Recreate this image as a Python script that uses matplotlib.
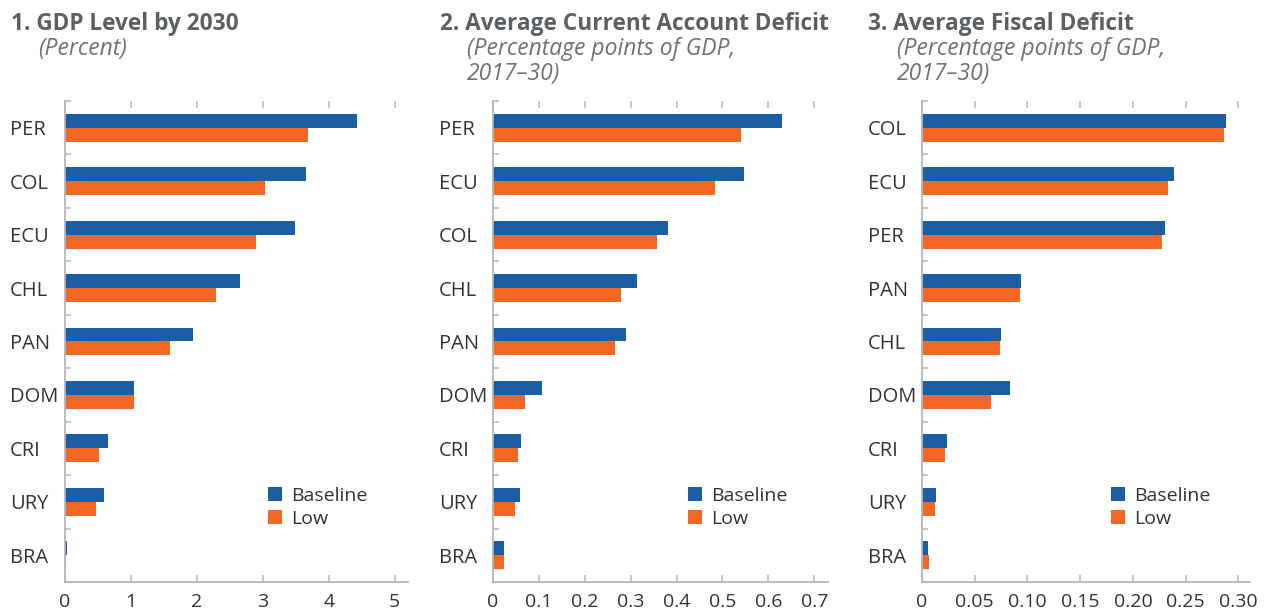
import matplotlib
matplotlib.use('Agg')
import matplotlib.pyplot as plt
import numpy as np

plt.rcParams['font.family'] = ['Open Sans', 'DejaVu Sans']

# panel 1: GDP level by 2030 (percent)
gdp_cats = ['PER', 'COL', 'ECU', 'CHL', 'PAN', 'DOM', 'CRI', 'URY', 'BRA']
gdp_base = [4.42, 3.65, 3.48, 2.65, 1.94, 1.05, 0.65, 0.59, 0.03]
gdp_low = [3.68, 3.03, 2.89, 2.29, 1.59, 1.05, 0.52, 0.47, 0.01]

# panel 2: average current account deficit
ca_cats = ['PER', 'ECU', 'COL', 'CHL', 'PAN', 'DOM', 'CRI', 'URY', 'BRA']
ca_base = [0.630, 0.546, 0.381, 0.313, 0.289, 0.106, 0.062, 0.058, 0.025]
ca_low = [0.540, 0.483, 0.357, 0.278, 0.265, 0.069, 0.054, 0.049, 0.023]

# panel 3: average fiscal deficit
fis_cats = ['COL', 'ECU', 'PER', 'PAN', 'CHL', 'DOM', 'CRI', 'URY', 'BRA']
fis_base = [0.288, 0.239, 0.230, 0.094, 0.075, 0.083, 0.024, 0.013, 0.006]
fis_low = [0.286, 0.233, 0.228, 0.093, 0.074, 0.065, 0.022, 0.012, 0.007]

titles = ['1. GDP Level by 2030', '2. Average Current Account Deficit',
          '3. Average Fiscal Deficit']
subtitles = [['(Percent)'],
             ['(Percentage points of GDP,', '2017\u201330)'],
             ['(Percentage points of GDP,', '2017\u201330)']]
xticks = [[0, 1, 2, 3, 4, 5],
          [0, 0.1, 0.2, 0.3, 0.4, 0.5, 0.6, 0.7],
          [0, 0.05, 0.10, 0.15, 0.20, 0.25, 0.30]]
xticklabels = [['0', '1', '2', '3', '4', '5'],
               ['0', '0.1', '0.2', '0.3', '0.4', '0.5', '0.6', '0.7'],
               ['0', '0.05', '0.10', '0.15', '0.20', '0.25', '0.30']]
xmax = [5.2, 0.73, 0.311]

BLUE = '#1B5EA4'
ORANGE = '#F26724'
GREY = '#B4B5BC'
TITLE_C = '#5B6064'
SUB_C = '#6E7275'
LABEL_C = '#333333'

W, H = 1267, 612
fig = plt.figure(figsize=(W / 100, H / 100), dpi=100)

# axes boxes in pixels: left, right
boxes = [(65, 408), (493, 828), (922, 1250)]
top_px, bot_px = 101, 582
title_x = [11, 440, 868]
sub_x = [38, 467, 897]
lab_x = [10, 439, 868]
leg_x = [268, 688, 1111]

data = [(gdp_cats, gdp_base, gdp_low), (ca_cats, ca_base, ca_low),
        (fis_cats, fis_base, fis_low)]

for i, (cats, base, low) in enumerate(data):
    l, r = boxes[i]
    ax = fig.add_axes([l / W, 1 - bot_px / H, (r - l) / W, (bot_px - top_px) / H])
    y = np.arange(len(cats))
    h = 0.26
    ax.barh(y - h / 2, base, height=h, color=BLUE, label='Baseline')
    ax.barh(y + h / 2, low, height=h, color=ORANGE, label='Low')
    ax.set_ylim(len(cats) - 0.5, -0.5)
    ax.set_xlim(0, xmax[i])

    for s in ['top', 'right']:
        ax.spines[s].set_visible(False)
    for s in ['left', 'bottom']:
        ax.spines[s].set_color(GREY)
        ax.spines[s].set_linewidth(1.3)

    ax.set_xticks(xticks[i])
    ax.set_xticklabels(xticklabels[i])
    ax.tick_params(axis='x', direction='in', length=5, width=1.1, color=GREY,
                   top=True, labeltop=False, labelsize=14, labelcolor=LABEL_C, pad=8)

    ax.set_yticks(y)
    ax.set_yticklabels(cats)
    ax.set_yticks(np.arange(len(cats) + 1) - 0.5, minor=True)
    ax.tick_params(axis='y', which='major', length=0, labelsize=14.5,
                   labelcolor=LABEL_C, pad=(l - lab_x[i]) / 1.389)
    ax.tick_params(axis='y', which='minor', direction='in', length=4.5,
                   width=1.1, color=GREY)
    for t in ax.get_yticklabels():
        t.set_horizontalalignment('left')

    fig.text(title_x[i] / W, 1 - 30 / H, titles[i], fontsize=16.3,
             fontweight='bold', color=TITLE_C, va='baseline')
    for k, line in enumerate(subtitles[i]):
        fig.text(sub_x[i] / W, 1 - (55 + 25 * k) / H, line, fontsize=16.5,
                 style='italic', color=SUB_C, va='baseline')

    ax.legend(loc='upper left', bbox_to_anchor=(leg_x[i] / W, 1 - 487 / H),
              bbox_transform=fig.transFigure, frameon=False, fontsize=14,
              handlelength=0.72, handleheight=0.72, handletextpad=0.45,
              labelspacing=0.25, borderaxespad=0, borderpad=0,
              labelcolor=LABEL_C)

fig.savefig('out.png', dpi=100)
